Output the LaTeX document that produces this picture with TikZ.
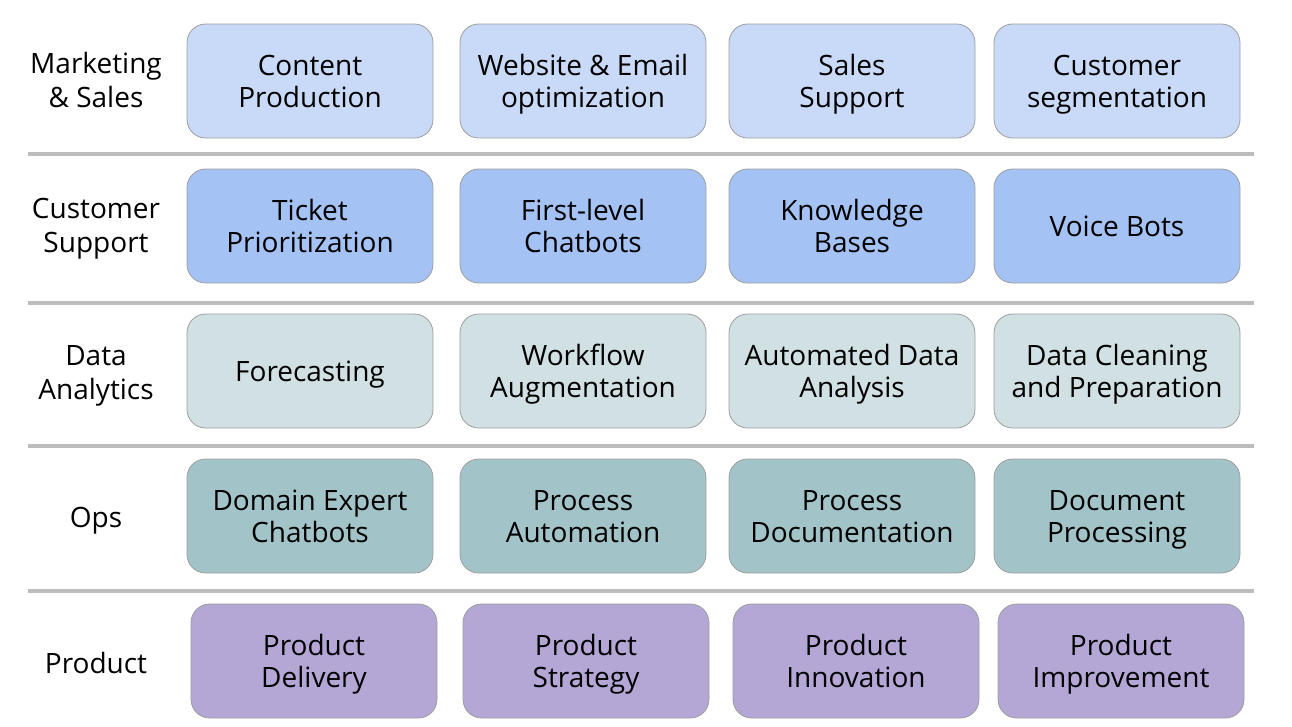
\documentclass[tikz,border=0pt]{standalone}
\usepackage{fontspec}
\setmainfont{Open Sans}
\definecolor{r1}{HTML}{C9DAF8}
\definecolor{r2}{HTML}{A4C2F4}
\definecolor{r3}{HTML}{D0E0E3}
\definecolor{r4}{HTML}{A2C4C9}
\definecolor{r5}{HTML}{B4A7D6}
\definecolor{sep}{HTML}{BDBDBD}
\definecolor{bd}{HTML}{9E9E9E}
\begin{document}
\begin{tikzpicture}[x=0.75pt,y=-0.75pt,
  card/.style={draw=bd,line width=0.6pt,rounded corners=14pt,minimum width=184.5pt,minimum height=85.5pt,align=center,font=\fontsize{21pt}{24.5pt}\selectfont,text=black,inner sep=0pt,text height=44.5pt,text depth=4.5pt},
  one/.style={text height=20pt,text depth=5pt},
  rowlabel/.style={align=center,font=\fontsize{21pt}{25.5pt}\selectfont,text=black,inner sep=0pt,text height=45.5pt,text depth=4.5pt},
  sepline/.style={draw=sep,line width=2.6pt}]
\useasboundingbox (0,0) rectangle (1292,726);
% row labels
\node[rowlabel] (l1) at (96,80) {Marketing\\\& Sales};
\node[rowlabel] (l2) at (96,225) {Customer\\Support};
\node[rowlabel] (l3) at (96,372) {Data\\Analytics};
\node[rowlabel,one] (l4) at (96,517) {Ops};
\node[rowlabel,one] (l5) at (96,663) {Product};
% separators
\coordinate (s1a) at (28,154); \coordinate (s1b) at (1254,154);
\coordinate (s2a) at (28,303); \coordinate (s2b) at (1254,303);
\coordinate (s3a) at (28,446); \coordinate (s3b) at (1254,446);
\coordinate (s4a) at (28,591); \coordinate (s4b) at (1254,591);
\draw[sepline] (s1a) -- (s1b);
\draw[sepline] (s2a) -- (s2b);
\draw[sepline] (s3a) -- (s3b);
\draw[sepline] (s4a) -- (s4b);
% row 1
\node[card,fill=r1] (a1) at (310,81) {Content\\Production};
\node[card,fill=r1] (a2) at (583,81) {Website \& Email\\optimization};
\node[card,fill=r1] (a3) at (852,81) {Sales\\Support};
\node[card,fill=r1] (a4) at (1117,81) {Customer\\segmentation};
% row 2
\node[card,fill=r2] (b1) at (310,226) {Ticket\\Prioritization};
\node[card,fill=r2] (b2) at (583,226) {First-level\\Chatbots};
\node[card,fill=r2] (b3) at (852,226) {Knowledge\\Bases};
\node[card,fill=r2,one] (b4) at (1117,226) {Voice Bots};
% row 3
\node[card,fill=r3,one] (c1) at (310,371) {Forecasting};
\node[card,fill=r3] (c2) at (583,371) {Workflow\\Augmentation};
\node[card,fill=r3] (c3) at (852,371) {Automated Data\\Analysis};
\node[card,fill=r3] (c4) at (1117,371) {Data Cleaning\\and Preparation};
% row 4
\node[card,fill=r4] (d1) at (310,516) {Domain Expert\\Chatbots};
\node[card,fill=r4] (d2) at (583,516) {Process\\Automation};
\node[card,fill=r4] (d3) at (852,516) {Process\\Documentation};
\node[card,fill=r4] (d4) at (1117,516) {Document\\Processing};
% row 5
\node[card,fill=r5] (e1) at (314,661) {Product\\Delivery};
\node[card,fill=r5] (e2) at (586,661) {Product\\Strategy};
\node[card,fill=r5] (e3) at (856,661) {Product\\Innovation};
\node[card,fill=r5] (e4) at (1121,661) {Product\\Improvement};
\end{tikzpicture}
\end{document}
